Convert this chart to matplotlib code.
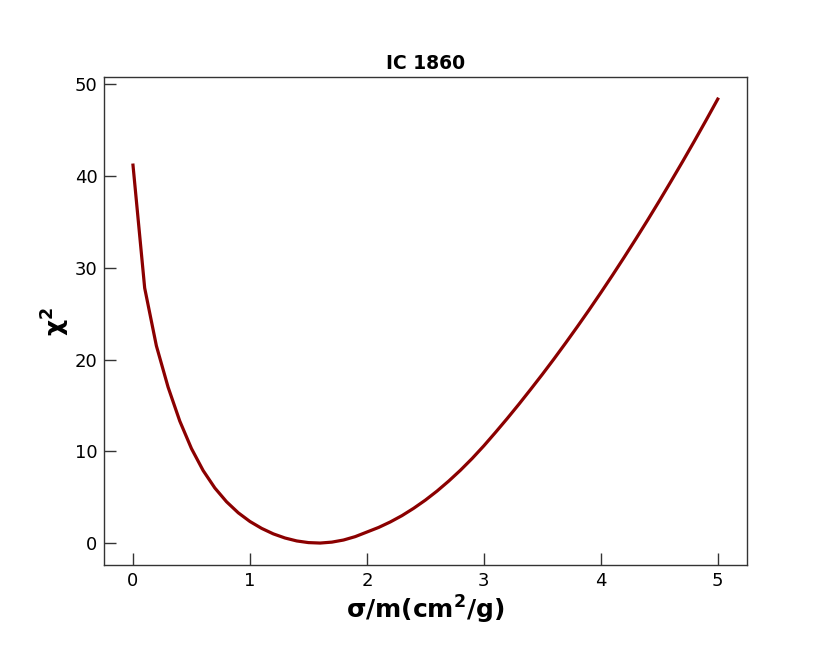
import matplotlib
matplotlib.use("Agg")
import matplotlib.pyplot as plt

plt.rcParams['mathtext.default'] = 'bf'

sigma_m = [0.0, 0.1, 0.2, 0.3, 0.4, 0.5, 0.6, 0.7, 0.8, 0.9,
           1.0, 1.1, 1.2, 1.3, 1.4, 1.5, 1.6, 1.7, 1.8, 1.9,
           2.0, 2.1, 2.2, 2.3, 2.4, 2.5, 2.6, 2.7, 2.8, 2.9,
           3.0, 3.1, 3.2, 3.3, 3.4, 3.5, 3.6, 3.7, 3.8, 3.9,
           4.0, 4.1, 4.2, 4.3, 4.4, 4.5, 4.6, 4.7, 4.8, 4.9, 5.0]
chi2 = [41.2, 27.8, 21.5, 17.0, 13.3, 10.3, 7.9, 6.0, 4.5, 3.3,
        2.35, 1.6, 1.0, 0.55, 0.23, 0.05, 0.0, 0.1, 0.33, 0.7,
        1.2, 1.70, 2.30, 2.99, 3.79, 4.68, 5.67, 6.76, 7.94, 9.22,
        10.6, 12.07, 13.58, 15.14, 16.75, 18.39, 20.08, 21.82, 23.60, 25.42,
        27.29, 29.20, 31.16, 33.16, 35.20, 37.29, 39.43, 41.60, 43.82, 46.09, 48.40]

title = "IC 1860"
xlabel = "σ/m(cm$^2$/g)"
ylabel = "χ$^2$"

fig = plt.figure(figsize=(8.3, 6.46), dpi=100)
ax = fig.add_subplot(111)
fig.subplots_adjust(left=0.125, right=0.9, top=0.881, bottom=0.125)

ax.plot(sigma_m, chi2, color='#8b0000', lw=2.3)

ax.set_title(title, fontsize=13.5, fontweight='bold')
ax.set_xlabel(xlabel, fontsize=18, fontweight='bold', labelpad=3)
ax.set_ylabel(ylabel, fontsize=18, fontweight='bold', labelpad=2)

for sp in ax.spines.values():
    sp.set_color('#333333')
    sp.set_linewidth(1.0)
ax.tick_params(direction='in', length=8.5, width=1.0, color='#333333',
               labelsize=13, pad=4.5)

fig.savefig("out.png", dpi=100)
